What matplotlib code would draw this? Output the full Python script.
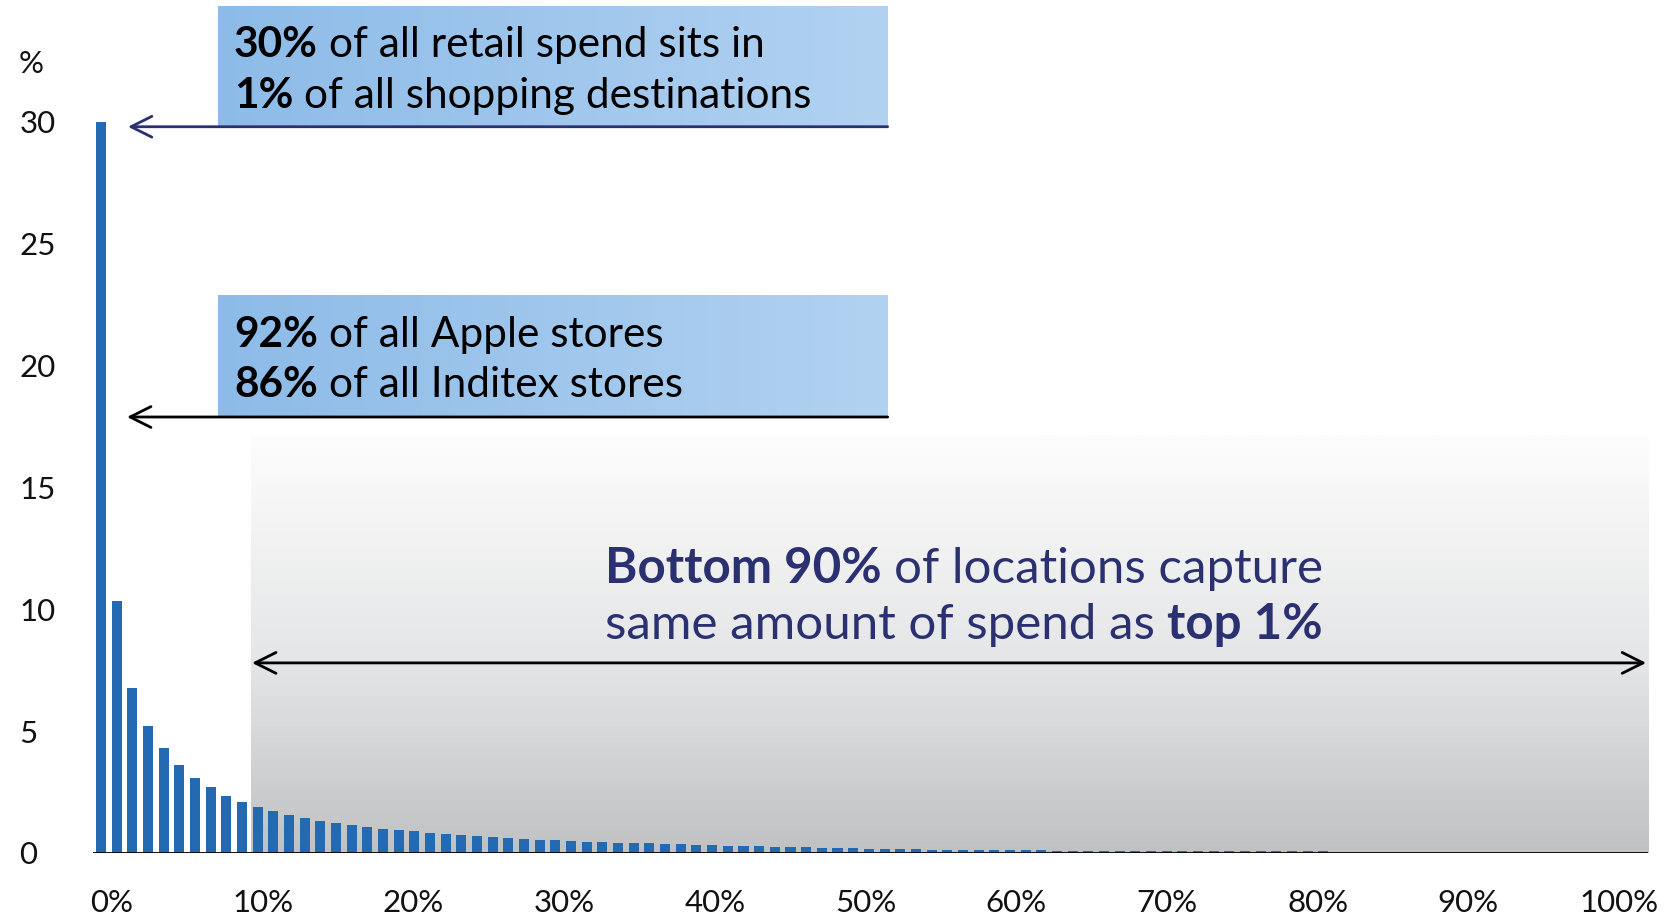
import numpy as np
import matplotlib.pyplot as plt
from matplotlib import transforms
from matplotlib.colors import LinearSegmentedColormap

# share of total retail spend (%) captured by each percentile of shopping destinations
spend_share = [
    30.0, 10.32, 6.77, 5.22, 4.31, 3.62, 3.09, 2.69, 2.34, 2.09,
    1.90, 1.74, 1.57, 1.45, 1.33, 1.22, 1.13, 1.07, 1.00, 0.94,
    0.89, 0.83, 0.79, 0.74, 0.70, 0.66, 0.62, 0.59, 0.55, 0.52,
    0.50, 0.47, 0.45, 0.43, 0.41, 0.39, 0.37, 0.35, 0.33, 0.31,
    0.30, 0.28, 0.27, 0.25, 0.24, 0.23, 0.22, 0.20, 0.19, 0.18,
    0.17, 0.16, 0.15, 0.14, 0.13, 0.13, 0.12, 0.12, 0.11, 0.11,
    0.11, 0.10, 0.10, 0.10, 0.09, 0.09, 0.09, 0.09, 0.08, 0.08,
    0.08, 0.08, 0.08, 0.07, 0.07, 0.07, 0.07, 0.07, 0.07,
]
y_ticks = [0, 5, 10, 15, 20, 25, 30]
x_tick_labels = ['0%', '10%', '20%', '30%', '40%', '50%', '60%', '70%', '80%', '90%', '100%']

top_note = [[('30%', 'bold'), ('of all retail spend sits in', 'normal')],
            [('1%', 'bold'), ('of all shopping destinations', 'normal')]]
store_note = [[('92%', 'bold'), ('of all Apple stores', 'normal')],
              [('86%', 'bold'), ('of all Inditex stores', 'normal')]]
tail_note = [[('Bottom 90%', 'bold'), ('of locations capture', 'normal')],
             [('same amount of spend as', 'normal'), ('top 1%', 'bold')]]

BAR = '#236ab2'
NAVY = '#2b3170'

plt.rcParams['font.family'] = ['Lato', 'DejaVu Sans']

W, H = 1665, 919
fig = plt.figure(figsize=(W / 100, H / 100), dpi=100)
ax = fig.add_axes([93 / W, 66 / H, 1555 / W, 853 / H])

x = np.arange(len(spend_share))
ax.bar(x, spend_share, width=0.64, color=BAR, zorder=3)
ax.axhline(0, color='black', lw=1.3, zorder=4)

# grey fade behind the long tail
fade = LinearSegmentedColormap.from_list(
    'fade', [(0.0, '#fdfdfd'), (0.55, '#e4e5e6'), (1.0, '#c0c1c3')])
ax.imshow(np.linspace(0, 1, 256)[:, None], extent=[9.57, 98.72, 0, 17.15],
          aspect='auto', cmap=fade, zorder=1)

# blue callout boxes
blue = LinearSegmentedColormap.from_list('blue', ['#8dbbe8', '#b2d2f1'])
for y0, y1 in [(29.8, 34.76), (17.89, 22.86)]:
    ax.imshow(np.linspace(0, 1, 256)[None, :], extent=[7.47, 50.2, y0, y1],
              aspect='auto', cmap=blue, zorder=2)

head = ',head_length=0.6,head_width=0.3'
ax.annotate('', xy=(1.72, 29.8), xytext=(50.2, 29.8),
            arrowprops=dict(arrowstyle='->' + head, lw=2, color=NAVY,
                            shrinkA=0, shrinkB=0, mutation_scale=25), zorder=5)
ax.annotate('', xy=(1.66, 17.89), xytext=(50.2, 17.89),
            arrowprops=dict(arrowstyle='->' + head, lw=2, color='black',
                            shrinkA=0, shrinkB=0, mutation_scale=25), zorder=5)
ax.annotate('', xy=(9.64, 7.8), xytext=(98.6, 7.8),
            arrowprops=dict(arrowstyle='<->' + head, lw=2, color='black',
                            shrinkA=0, shrinkB=0, mutation_scale=25), zorder=5)

ax.set_xlim(-0.51, 98.72)
ax.set_ylim(0, 35.0)

ax.set_yticks(y_ticks)
ax.set_yticklabels([str(v) for v in y_ticks], ha='left', fontsize=22.5,
                   color='#111111')
ax.tick_params(axis='y', length=0, pad=53)
ax.set_xticks(0.7 + 9.617 * np.arange(len(x_tick_labels)))
ax.set_xticklabels(x_tick_labels, fontsize=22.5, color='#111111')
ax.tick_params(axis='x', length=0, pad=26)
for s in ax.spines.values():
    s.set_visible(False)
fig.text(19 / W, 1 - 64 / H, '%', fontsize=22.5, color='#111111', va='center')

renderer = fig.canvas.get_renderer()


def rich_line(x0, y0, parts, size, color, ha='left'):
    texts = [ax.text(x0, y0, s, fontsize=size, fontweight=w, color=color,
                     va='baseline', zorder=6) for s, w in parts]
    widths = [t.get_window_extent(renderer).width for t in texts]
    probe = ax.text(0, 0, 'a a', fontsize=size)
    probe2 = ax.text(0, 0, 'aa', fontsize=size)
    gap = probe.get_window_extent(renderer).width - probe2.get_window_extent(renderer).width
    probe.remove()
    probe2.remove()
    total = sum(widths) + gap * (len(texts) - 1)
    off = -total / 2 if ha == 'center' else 0
    for t, w in zip(texts, widths):
        t.set_transform(transforms.offset_copy(ax.transData, fig=fig, x=off, y=0,
                                               units='dots'))
        off += w + gap


for line, yb in zip(top_note, [32.66, 30.57]):
    rich_line(8.49, yb, line, 30.5, 'black')
for line, yb in zip(store_note, [20.76, 18.71]):
    rich_line(8.49, yb, line, 30.5, 'black')
for line, yb in zip(tail_note, [11.08, 8.78]):
    rich_line(55.07, yb, line, 35.5, NAVY, ha='center')

fig.savefig('out.png', dpi=100)
